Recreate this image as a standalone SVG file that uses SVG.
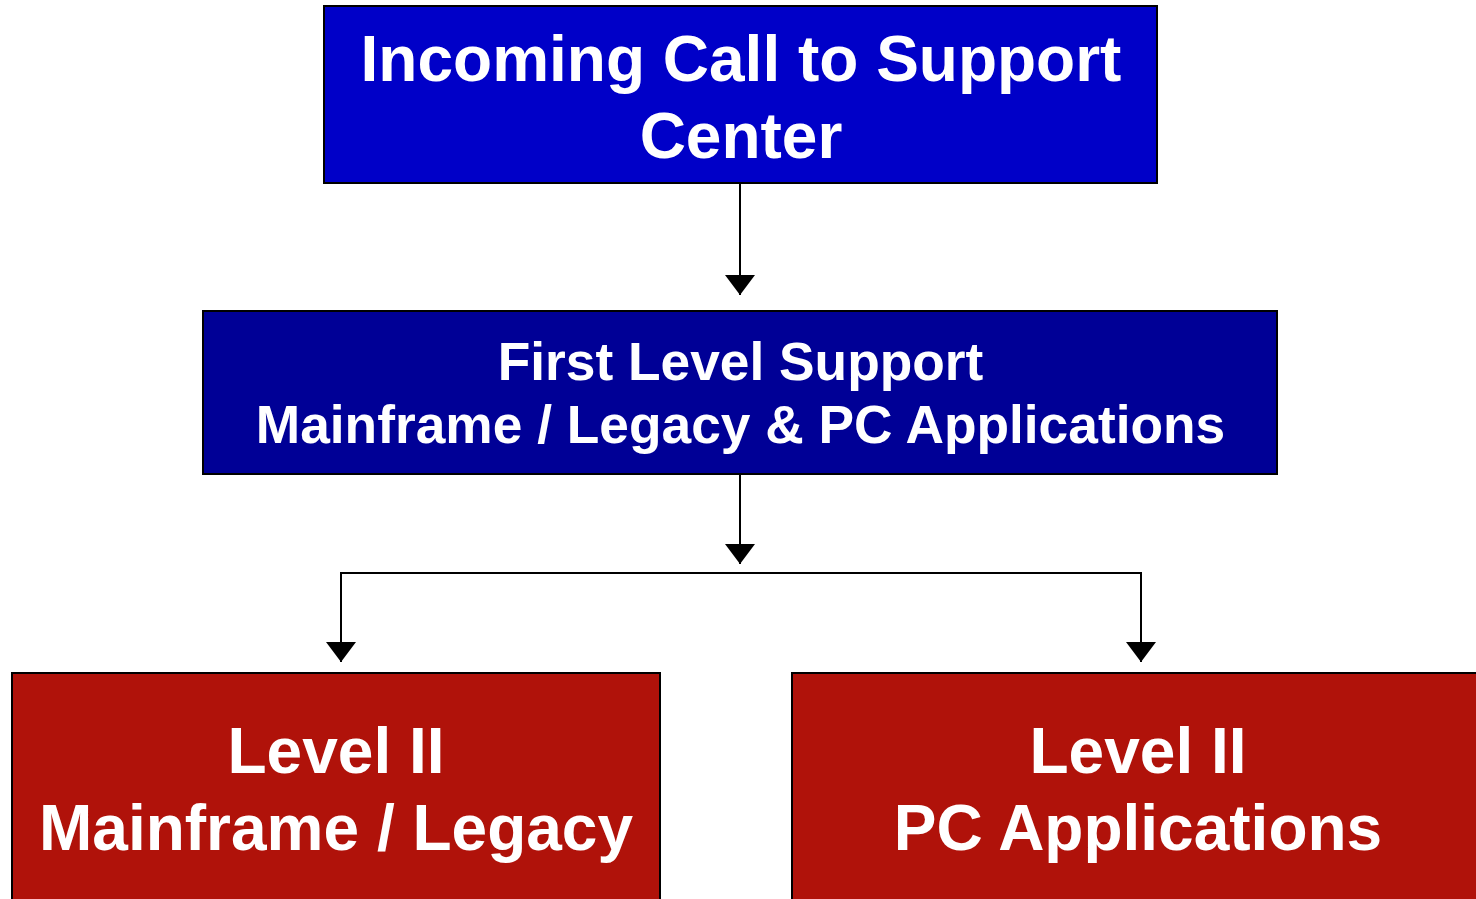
<svg xmlns="http://www.w3.org/2000/svg" width="1476" height="899" viewBox="0 0 1476 899">
<defs>
<style>
.box{stroke:#000;stroke-width:2}
.t{font-family:"Liberation Sans",Arial,sans-serif;font-weight:bold;fill:#fff;text-anchor:middle}
.c{fill:none;stroke:#000;stroke-width:2}
</style>
<marker id="ah" markerWidth="30" markerHeight="20" refX="15" refY="20" orient="0" markerUnits="userSpaceOnUse" viewBox="0 0 30 20">
<path d="M0,0 L30,0 L15,20 Z" fill="#000"/>
</marker>
</defs>
<rect width="1476" height="899" fill="#fff"/>
<g id="connectors">
<path class="c" d="M740,183 V295" marker-end="url(#ah)"/>
<path class="c" d="M740,474 V564" marker-end="url(#ah)"/>
<path class="c" d="M341,662 V573 H1141 V662"/>
<path d="M326,642 L356,642 L341,662 Z" fill="#000"/>
<path d="M1126,642 L1156,642 L1141,662 Z" fill="#000"/>
</g>
<g id="incoming">
<rect class="box" x="324" y="6" width="833" height="177" fill="#0000C8"/>
<text class="t" x="741" y="81" font-size="64">Incoming Call to Support</text>
<text class="t" x="741" y="158" font-size="64">Center</text>
</g>
<g id="first-level">
<rect class="box" x="203" y="311" width="1074" height="163" fill="#000096"/>
<text class="t" x="740.5" y="380" font-size="53.3">First Level Support</text>
<text class="t" x="740.5" y="443" font-size="53.3">Mainframe / Legacy &amp; PC Applications</text>
</g>
<g id="level2-mainframe">
<rect class="box" x="12" y="673" width="648" height="240" fill="#B0120A"/>
<text class="t" x="336" y="773" font-size="64">Level II</text>
<text class="t" x="336" y="850" font-size="64">Mainframe / Legacy</text>
</g>
<g id="level2-pc">
<rect class="box" x="792" y="673" width="700" height="240" fill="#B0120A"/>
<text class="t" x="1138" y="773" font-size="64">Level II</text>
<text class="t" x="1138" y="850" font-size="64">PC Applications</text>
</g>
</svg>
